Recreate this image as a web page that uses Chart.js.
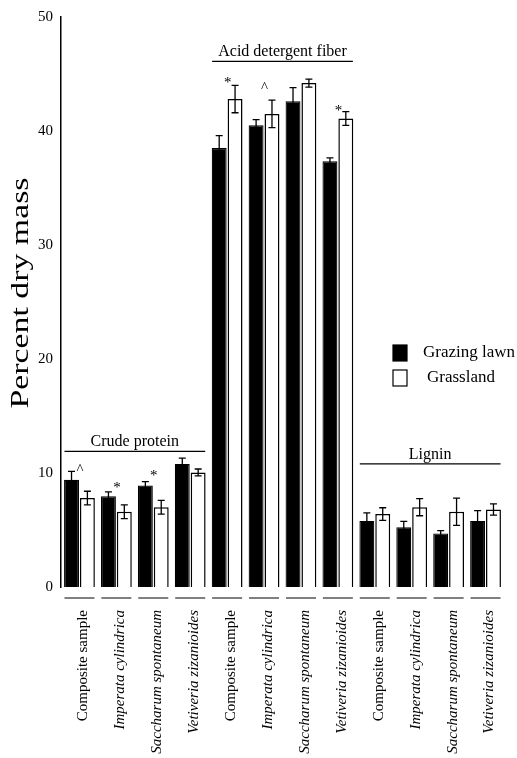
<!DOCTYPE html>
<html>
<head>
<meta charset="utf-8">
<script src="https://cdn.jsdelivr.net/npm/chart.js@4.4.1/dist/chart.umd.min.js"></script>
<style>
  html, body { margin: 0; padding: 0; background: #fff; }
  #wrap { width: 517px; height: 758px; }
</style>
</head>
<body>
<div id="wrap"><canvas id="nutrientChart"></canvas></div>
<script>
const categories = [
  "Composite sample", "Imperata cylindrica", "Saccharum spontaneum", "Vetiveria zizanioides",
  "Composite sample", "Imperata cylindrica", "Saccharum spontaneum", "Vetiveria zizanioides",
  "Composite sample", "Imperata cylindrica", "Saccharum spontaneum", "Vetiveria zizanioides"
];
const seriesNames = ["Grazing lawn", "Grassland"];
const grazingLawn = [9.4, 7.95, 8.9, 10.8, 38.5, 40.5, 42.6, 37.35, 5.8, 5.25, 4.7, 5.8];
const grazingLawnErr = [0.75, 0.4, 0.35, 0.5, 1.1, 0.5, 1.2, 0.3, 0.7, 0.5, 0.25, 0.9];
const grassland = [7.8, 6.6, 7.0, 10.05, 42.8, 41.5, 44.2, 41.1, 6.4, 7.0, 6.6, 6.8];
const grasslandErr = [0.6, 0.6, 0.6, 0.3, 1.2, 1.2, 0.35, 0.6, 0.55, 0.75, 1.2, 0.5];
const markerText = ["^", "*", "*", "", "*", "^", "", "*", "", "", "", ""];
const markerLevel = [10.65, 9.03, 10.06, null, 44.6, 44.15, null, 42.1, null, null, null, null];
const groupNames = ["Crude protein", "Acid detergent fiber", "Lignin"];
const groupFirst = [0, 4, 8];
const groupLast = [3, 7, 11];
const groupLevel = [11.9, 46.1, 10.8];
const yTicks = [0, 10, 20, 30, 40, 50];
const yTitle = "Percent dry mass";

const serif = "'Liberation Serif', 'Times New Roman', serif";

// error bars, group headings, significance marks, pair underlines, legend, y title
const extras = {
  id: "extras",
  afterDatasetsDraw(chart) {
    const { ctx, chartArea, scales } = chart;
    const y = scales.y;
    const x = scales.x;
    const errs = [grazingLawnErr, grasslandErr];
    ctx.save();
    ctx.strokeStyle = "#000";
    ctx.fillStyle = "#000";

    // error bars
    ctx.lineWidth = 1.3;
    chart.data.datasets.forEach((ds, di) => {
      const meta = chart.getDatasetMeta(di);
      meta.data.forEach((bar, i) => {
        const v = ds.data[i];
        const top = y.getPixelForValue(v + errs[di][i]);
        const bot = y.getPixelForValue(v - errs[di][i]);
        ctx.beginPath();
        ctx.moveTo(bar.x, top);
        ctx.lineTo(bar.x, bot);
        ctx.moveTo(bar.x - 3.5, top);
        ctx.lineTo(bar.x + 3.5, top);
        ctx.moveTo(bar.x - 3.5, bot);
        ctx.lineTo(bar.x + 3.5, bot);
        ctx.stroke();
      });
    });

    // significance marks next to the grazing lawn bars
    ctx.font = "15px " + serif;
    ctx.textAlign = "center";
    ctx.textBaseline = "alphabetic";
    const black = chart.getDatasetMeta(0).data;
    markerText.forEach((m, i) => {
      if (!m) return;
      const bx = black[i].x + black[i].width / 2 + 1;
      ctx.fillText(m, bx, y.getPixelForValue(markerLevel[i]) + 8);
    });

    // group headings
    ctx.font = "16px " + serif;
    ctx.lineWidth = 1.2;
    groupNames.forEach((name, g) => {
      const x0 = x.getPixelForValue(groupFirst[g]) - 15;
      const x1 = x.getPixelForValue(groupLast[g]) + 15;
      const ly = y.getPixelForValue(groupLevel[g]);
      ctx.beginPath();
      ctx.moveTo(x0, ly);
      ctx.lineTo(x1, ly);
      ctx.stroke();
      ctx.fillText(name, (x0 + x1) / 2, ly - 5);
    });

    // short lines under each pair
    ctx.lineWidth = 1;
    categories.forEach((c, i) => {
      const cx = x.getPixelForValue(i);
      ctx.beginPath();
      ctx.moveTo(cx - 15, chartArea.bottom + 11);
      ctx.lineTo(cx + 15, chartArea.bottom + 11);
      ctx.stroke();
    });

    // legend
    ctx.font = "17px " + serif;
    ctx.textAlign = "left";
    ctx.textBaseline = "middle";
    const lx = chartArea.right - 111;
    const rows = [353, 378];
    chart.data.datasets.forEach((ds, di) => {
      const ry = rows[di];
      ctx.fillStyle = ds.backgroundColor;
      ctx.fillRect(lx, ry - 8, 14, 16);
      ctx.lineWidth = 1.2;
      ctx.strokeRect(lx, ry - 8, 14, 16);
      ctx.fillStyle = "#000";
      ctx.fillText(ds.label, lx + (di === 0 ? 30 : 34), ry);
    });

    // y axis title, widened like the scanned original
    ctx.translate(28, (chartArea.top + chartArea.bottom) / 2 - 9);
    ctx.rotate(-Math.PI / 2);
    ctx.scale(1.3, 1);
    ctx.font = "26px " + serif;
    ctx.textAlign = "center";
    ctx.textBaseline = "alphabetic";
    ctx.fillText(yTitle, 0, 0);
    ctx.restore();
  },
};

new Chart(document.getElementById("nutrientChart"), {
  type: "bar",
  data: {
    labels: categories,
    datasets: [
      {
        label: seriesNames[0],
        data: grazingLawn,
        backgroundColor: "#000",
        borderColor: "#000",
        borderWidth: 1.2,
      },
      {
        label: seriesNames[1],
        data: grassland,
        backgroundColor: "#fff",
        borderColor: "#000",
        borderWidth: 1.5,
      },
    ],
  },
  options: {
    responsive: true,
    maintainAspectRatio: false,
    animation: false,
    categoryPercentage: 0.86,
    barPercentage: 0.94,
    layout: { padding: { top: 14, right: 13, bottom: 0, left: 0 } },
    plugins: {
      legend: { display: false },
      tooltip: { enabled: false },
    },
    scales: {
      x: {
        grid: { display: false, drawTicks: false },
        border: { display: false },
        afterFit: (scale) => {
          scale.height = 171;
          scale.paddingLeft = 0;
          scale.paddingRight = 0;
        },
        ticks: {
          autoSkip: false,
          minRotation: 90,
          maxRotation: 90,
          padding: 23,
          labelOffset: 4,
          color: "#000",
          font: (ctx) => ({
            family: serif,
            size: 15,
            style: ctx.index % 4 === 0 ? "normal" : "italic",
          }),
        },
      },
      y: {
        min: 0,
        max: 50,
        afterBuildTicks: (scale) => {
          scale.ticks = yTicks.map((v) => ({ value: v }));
        },
        afterFit: (scale) => { scale.width = 61; },
        grid: { display: false, drawTicks: false },
        border: { display: true, color: "#000", width: 1.5 },
        ticks: {
          padding: 8,
          color: "#000",
          font: { family: serif, size: 15 },
        },
      },
    },
  },
  plugins: [extras],
});
</script>
</body>
</html>
